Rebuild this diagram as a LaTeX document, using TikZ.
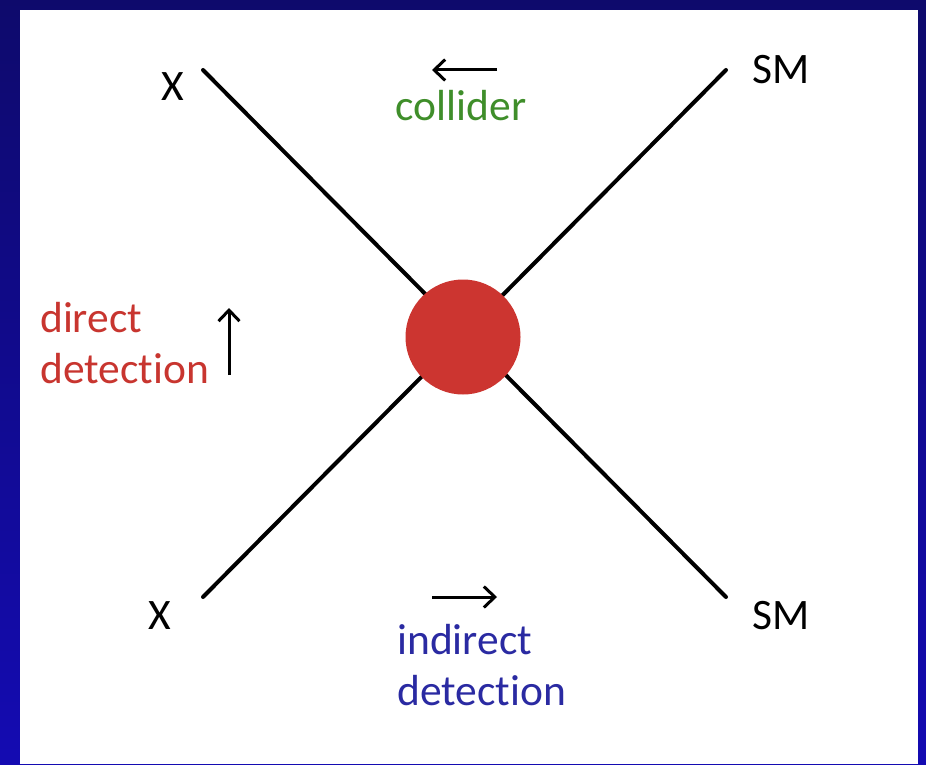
\documentclass[tikz,border=0pt]{standalone}
\usepackage{fontspec}
\setmainfont{Carlito}[Ligatures={NoCommon}]
\usetikzlibrary{arrows.meta}
\definecolor{navytop}{HTML}{0E0A6C}
\definecolor{navybot}{HTML}{140BB2}
\definecolor{blobred}{HTML}{CC3530}
\definecolor{colgreen}{HTML}{3F8E2A}
\definecolor{ddred}{HTML}{C8352F}
\definecolor{idblue}{HTML}{2A2AA2}
\tikzset{
  lbl/.style={font=\fontsize{43.5}{52}\selectfont, inner sep=0pt},
  leg/.style={line width=4pt, line cap=round},
  dirarrow/.style={line width=3pt, -{Straight Barb[length=11pt,width=21pt,line width=3pt]}},
}
\begin{document}
\begin{tikzpicture}[x=1pt,y=-1pt]
\useasboundingbox (0,0) rectangle (926,765);
\shade[top color=navytop, bottom color=navybot] (0,0) rectangle (926,765);
\fill[white] (20,10) rectangle (918,764);
% line ends
\coordinate (tl) at (203,70);
\coordinate (br) at (726,597);
\coordinate (bl) at (203,597);
\coordinate (tr) at (726,70);
\draw[leg] (tl) -- (br);
\draw[leg] (bl) -- (tr);
\node[circle, fill=blobred, minimum size=115pt, inner sep=0pt] (blob) at (463,337) {};
% particle labels
\node[lbl, anchor=base] (xtop) at (173,101) {X};
\node[lbl, anchor=base] (smtop) at (781,84) {SM};
\node[lbl, anchor=base] (xbot) at (160,629) {X};
\node[lbl, anchor=base] (smbot) at (781,629) {SM};
% collider
\coordinate (ca) at (497,70);
\coordinate (cb) at (432,70);
\draw[dirarrow] (ca) -- (cb);
\node[lbl, anchor=base, text=colgreen] (coll) at (461,121) {collider};
% direct detection
\coordinate (da) at (229,375);
\coordinate (db) at (229,308);
\draw[dirarrow] (da) -- (db);
\node[lbl, anchor=base west, text=ddred] (dd1) at (40,332) {direct};
\node[lbl, anchor=base west, text=ddred] (dd2) at (40,383) {detection};
% indirect detection
\coordinate (ia) at (432,597);
\coordinate (ib) at (497,597);
\draw[dirarrow] (ia) -- (ib);
\node[lbl, anchor=base west, text=idblue] (id1) at (397,654) {indirect};
\node[lbl, anchor=base west, text=idblue] (id2) at (397,705) {detection};
\end{tikzpicture}
\end{document}
